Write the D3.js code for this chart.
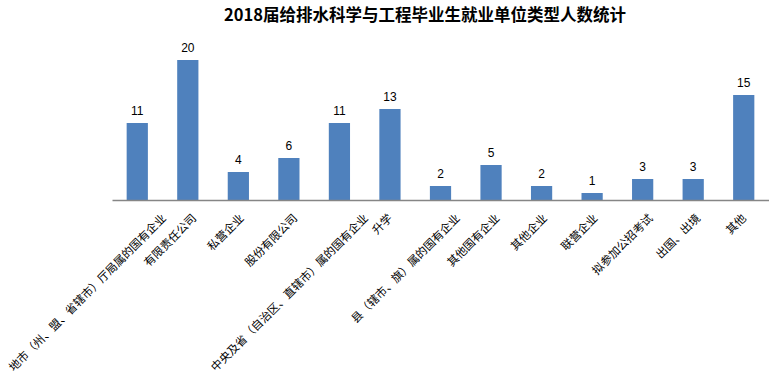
<!DOCTYPE html>
<html>
<head>
<meta charset="utf-8">
<script src="https://cdn.jsdelivr.net/npm/d3@7"></script>
<style>
body { margin: 0; background: #fff; }
.label { font-family: "Noto Sans CJK SC", sans-serif; font-size: 11.4px; fill: #000; }
.value { font-family: "Liberation Sans", "DejaVu Sans", sans-serif; font-size: 12px; fill: #000; }
.title { font-family: "Noto Sans CJK SC", sans-serif; font-size: 16.5px; font-weight: bold; fill: #000; }
</style>
</head>
<body>
<div class="container"></div>
<script>
const WIDTH = 769;
const HEIGHT = 376;
const LEFT = 112;
const RIGHT = 769;
const AXIS_Y = 200;
const TOP_Y = 60;

var title = "2018届给排水科学与工程毕业生就业单位类型人数统计";

var categories = [
	"地市（州、盟、省辖市）厅局属的国有企业",
	"有限责任公司",
	"私营企业",
	"股份有限公司",
	"中央及省（自治区、直辖市）属的国有企业",
	"升学",
	"县（辖市、旗）属的国有企业",
	"其他国有企业",
	"其他企业",
	"联营企业",
	"拟参加公招考试",
	"出国、出境",
	"其他"
];

var counts = [11, 20, 4, 6, 11, 13, 2, 5, 2, 1, 3, 3, 15];

var translate = function(x, y){
	return "translate(" + x + "," + y + ")";
};

var svg = d3.select('.container').append('svg')
	.attr('width', WIDTH)
	.attr('height', HEIGHT);

var xScale = d3.scaleBand()
	.domain(categories)
	.range([LEFT, RIGHT])
	.paddingInner(0.58)
	.paddingOuter(0.29);

var yScale = d3.scaleLinear()
	.domain([0, 20])
	.range([AXIS_Y, TOP_Y]);

var data = categories.map(function(c, i){
	return {name: c, value: counts[i]};
});

svg.append('text')
	.attr('class', 'title')
	.attr('x', 425)
	.attr('y', 21)
	.attr('text-anchor', 'middle')
	.text(title);

svg.selectAll('.bar')
	.data(data)
	.enter().append('rect')
	.attr('class', 'bar')
	.attr('x', function(d){ return xScale(d.name); })
	.attr('y', function(d){ return yScale(d.value); })
	.attr('width', xScale.bandwidth())
	.attr('height', function(d){ return AXIS_Y - yScale(d.value); })
	.attr('fill', '#4f81bd');

svg.selectAll('.value')
	.data(data)
	.enter().append('text')
	.attr('class', 'value')
	.attr('x', function(d){ return xScale(d.name) + xScale.bandwidth() / 2; })
	.attr('y', function(d){ return yScale(d.value) - 8; })
	.attr('text-anchor', 'middle')
	.text(function(d){ return d.value; });

// category axis, ticks hidden, labels slanted like the excel original
var xAxis = d3.axisBottom(xScale).tickSize(0).tickSizeOuter(0);
var axisG = svg.append('g')
	.attr('transform', translate(0, AXIS_Y))
	.call(xAxis);

axisG.select('.domain')
	.attr('stroke', '#868686')
	.attr('stroke-width', 1.5);

axisG.selectAll('.tick text')
	.attr('class', 'label')
	.attr('font-family', null)
	.attr('font-size', null)
	.attr('text-anchor', 'end')
	.attr('dy', 0)
	.attr('y', 0)
	.attr('transform', function(d){
		var shift = 1.55 * d.length;
		return translate(shift, 19) + " rotate(-45)";
	});
</script>
</body>
</html>
